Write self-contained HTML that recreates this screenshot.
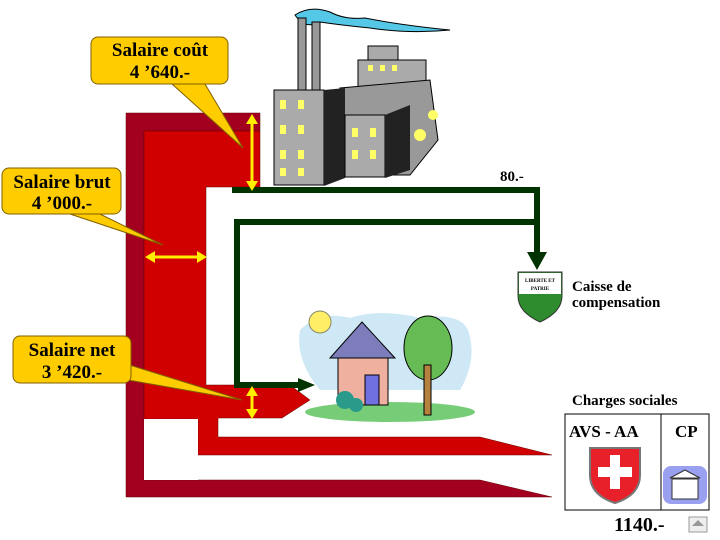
<!DOCTYPE html>
<html><head><meta charset="utf-8"><style>
html,body{margin:0;padding:0;background:#fff;width:720px;height:540px;overflow:hidden}
svg{display:block}
text{font-family:"Liberation Serif",serif;font-weight:bold}
</style></head><body>
<svg width="720" height="540" viewBox="0 0 720 540" xmlns="http://www.w3.org/2000/svg">
<path d="M126,113 H260 V131 H144 V480 H480 L552,497 H126 Z" fill="#a3001f" stroke="#600" stroke-width="0.5"/>
<path d="M144,131 H260 V187 H206 V385 H290 L310,400 L282,418 H218 V437 H480 L552,455 H198 V419 H144 Z" fill="#d00000" stroke="#600" stroke-width="0.5"/>
<rect x="144" y="419" width="54" height="61" fill="#fff"/>
<g stroke="#003300" stroke-width="6" fill="none">
<path d="M232,190 H537 V254"/>
<path d="M537,222 H237 V385 H300"/>
</g>
<polygon points="527,252 547,252 537,270" fill="#003300"/>
<polygon points="298,378 315,385 298,392" fill="#003300"/>
<g stroke="#ffee00" stroke-width="3" fill="#ffee00">
<line x1="252" y1="122" x2="252" y2="183"/>
<polygon points="246,124 252,114 258,124" stroke="none"/>
<polygon points="246,181 252,191 258,181" stroke="none"/>
<line x1="153" y1="257" x2="199" y2="257"/>
<polygon points="155,251 145,257 155,263" stroke="none"/>
<polygon points="197,251 207,257 197,263" stroke="none"/>
<line x1="252" y1="394" x2="252" y2="411"/>
<polygon points="246,396 252,386 258,396" stroke="none"/>
<polygon points="246,409 252,419 258,409" stroke="none"/>
</g>
<g fill="#ffcc00" stroke="#806000" stroke-width="1">
<polygon points="172,84 205,84 243,148"/>
<rect x="91" y="37" width="137" height="47" rx="7"/>
<polygon points="70,214 100,214 163,245"/>
<rect x="2" y="168" width="119" height="46" rx="7"/>
<polygon points="120,362 128,380 242,400"/>
<rect x="13" y="336" width="118" height="47" rx="7"/>
</g>
<g font-size="19" text-anchor="middle" fill="#000">
<text x="160" y="56">Salaire coût</text>
<text x="160" y="78">4 ’640.-</text>
<text x="62" y="188">Salaire brut</text>
<text x="62" y="209">4 ’000.-</text>
<text x="72" y="356">Salaire net</text>
<text x="72" y="378">3 ’420.-</text>
</g>
<path d="M295,15 Q310,5 330,12 Q345,20 365,18 Q400,25 450,30 Q410,34 370,28 Q340,25 320,22 Q305,30 295,15Z" fill="#55c8e8" stroke="#000" stroke-width="1"/>
<rect x="298" y="18" width="8" height="75" fill="#999" stroke="#000"/>
<rect x="312" y="22" width="8" height="70" fill="#999" stroke="#000"/>
<rect x="368" y="46" width="30" height="18" fill="#aaa" stroke="#000"/>
<rect x="358" y="60" width="68" height="30" fill="#aaa" stroke="#000"/>
<polygon points="340,88 430,80 438,140 410,175 345,175" fill="#999" stroke="#000"/>
<rect x="274" y="90" width="50" height="95" fill="#aaa" stroke="#000"/>
<polygon points="324,90 345,88 345,178 324,186" fill="#222"/>
<rect x="345" y="115" width="40" height="62" fill="#aaa" stroke="#000"/>
<polygon points="385,115 410,105 410,170 385,178" fill="#222"/>
<g fill="#ffff66">
<rect x="280" y="100" width="6" height="9"/><rect x="298" y="100" width="6" height="9"/>
<rect x="280" y="125" width="6" height="9"/><rect x="298" y="125" width="6" height="9"/>
<rect x="280" y="150" width="6" height="9"/><rect x="298" y="150" width="6" height="9"/>
<rect x="280" y="168" width="6" height="8"/><rect x="298" y="168" width="6" height="8"/>
<rect x="352" y="128" width="6" height="9"/><rect x="370" y="128" width="6" height="9"/>
<rect x="352" y="150" width="6" height="9"/><rect x="370" y="150" width="6" height="9"/>
<rect x="368" y="65" width="5" height="6"/><rect x="380" y="65" width="5" height="6"/><rect x="392" y="65" width="5" height="6"/>
<circle cx="420" cy="135" r="6"/><circle cx="433" cy="115" r="5"/>
</g>
<path d="M518,272 H562 V296 Q562,312 540,322 Q518,312 518,296Z" fill="#2e8b2e" stroke="#333"/>
<path d="M519,273 H561 V294 H519Z" fill="#fff"/>
<text x="540" y="282" font-size="5" text-anchor="middle">LIBERTE ET</text>
<text x="540" y="290" font-size="5" text-anchor="middle">PATRIE</text>
<text x="572" y="291" font-size="15">Caisse de</text>
<text x="572" y="307" font-size="15">compensation</text>
<text x="500" y="181" font-size="15">80.-</text>
<path d="M300,330 Q320,310 350,318 Q380,308 420,318 Q460,312 468,330 Q478,360 460,390 L320,390 Q295,360 300,330Z" fill="#cfe8f5"/>
<circle cx="320" cy="322" r="11" fill="#ffee66" stroke="#886" stroke-width="1"/>
<ellipse cx="390" cy="412" rx="85" ry="10" fill="#7c7"/>
<rect x="338" y="355" width="50" height="50" fill="#f0b0a0" stroke="#000"/>
<polygon points="330,358 362,322 395,358" fill="#7d7dbb" stroke="#000"/>
<rect x="365" y="375" width="14" height="30" fill="#7070e0" stroke="#000"/>
<ellipse cx="428" cy="348" rx="24" ry="32" fill="#66bb55" stroke="#000"/>
<rect x="424" y="365" width="7" height="50" fill="#b5813f" stroke="#000"/>
<circle cx="345" cy="400" r="9" fill="#2a9a8a"/><circle cx="356" cy="405" r="7" fill="#2a9a8a"/>
<text x="572" y="405" font-size="15">Charges sociales</text>
<rect x="565" y="414" width="144" height="96" fill="#fff" stroke="#000"/>
<line x1="661" y1="414" x2="661" y2="510" stroke="#000"/>
<text x="569" y="437" font-size="17" font-weight="normal">AVS - AA</text>
<text x="675" y="437" font-size="17" font-weight="normal">CP</text>
<path d="M590,448 H640 V475 Q640,495 615,503 Q590,495 590,475Z" fill="#e8202a" stroke="#777" stroke-width="2"/>
<rect x="610" y="455" width="10" height="34" fill="#fff"/>
<rect x="598" y="467" width="34" height="10" fill="#fff"/>
<rect x="663" y="466" width="44" height="38" rx="8" fill="#9aa0f0"/>
<polygon points="670,478 685,470 700,478" fill="#fff" stroke="#333"/>
<rect x="672" y="479" width="26" height="20" fill="#fff" stroke="#333"/>
<text x="614" y="531" font-size="20" font-weight="bold">1140.-</text>
<rect x="689" y="517" width="18" height="15" fill="#eee" stroke="#999"/>
<polygon points="692,526 698,520 704,526" fill="#999"/>
</svg>
</body></html>
